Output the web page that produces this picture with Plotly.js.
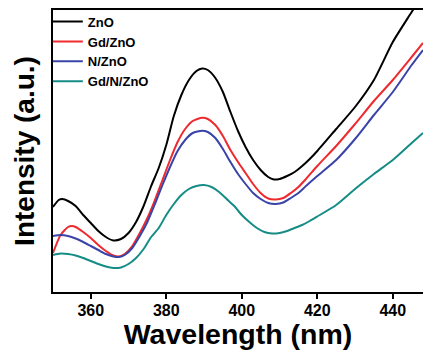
<!DOCTYPE html>
<html>
<head>
<meta charset="utf-8">
<script src="https://cdn.plot.ly/plotly-3.0.1.min.js"></script>
<style>html,body{margin:0;padding:0;background:#fff;}#chart{width:423px;height:350px;}</style>
</head>
<body>
<div id="chart"></div>
<script>
// Series names
const seriesNames = ["ZnO", "Gd/ZnO", "N/ZnO", "Gd/N/ZnO"];
const seriesColors = ["#000000", "#ee2a2f", "#3a44a8", "#168c86"];

// Wavelengths (nm) and intensities (a.u.)
const wlZnO = [350,351.5,352.5,354,356,358,360,362,364,366,368,370,372,374,376,378,380,382,384,386,388,389.5,391,393,395,397,399,401,403,405,407,408.5,410,412,414,416,418,420,425,430,435,440,445,448];
const intZnO = [85,92,93,91,86,77,69,61,55,51.5,53,59,70,86,106,124,147,176,197,212,221,223.5,222,214,200,180,161,145,132,122,115,112.5,113,116,120,126,133,141,163,185,212,250,280,298];

const wlGdZnO = [350,352,354,355,356,358,360,362,364,366,367.5,369,371,373,375,377,379,381,383,385,387,389.5,391,393,395,397,399,401,403,405,407,409,411,413,415,417,420,425,430,435,440,445,448];
const intGdZnO = [39,57,65,66,65,60,54,47,41,36.5,35.5,38,46,59,74,92,112,132,150,163,171,174.3,173,167,156,142,130,119,108,99,93.5,92.5,94,99,105,113,126,146,168,191,212,235,249];

const wlNZnO = [350,352,354,356,358,360,362,364,366,367.5,369,371,373,375,377,379,381,383,385,387,389.5,391,393,395,397,399,401,403,405,407,409,411,413,415,417,420,425,430,435,440,445,448];
const intNZnO = [56,57,56,53.5,50,46,42,38,35.5,35,37,44,56,70,88,107,125,141,152,159,161.3,160,154,143,130,118,108,99,93,89,88,89.5,94,99,106,116,132,153,177,200,227,242];

const wlGdNZnO = [350,352,354,356,358,360,362,364,366,368,370,372,374,376,378,380,382,384,386,388,390,392,394,396,398,400,402,404,406,408,410,412,414,416,418,420,425,430,435,440,445,448];
const intGdNZnO = [37,38.5,38,36.5,34,31,28,25.5,24,24.5,28,34,43,55,64,77,88,97,103,106,107,105,100,93,86,77,70,64,60,58.5,59,61,64,67,71,75.5,87,103,118,132,149,159];

const xTicks = [360, 380, 400, 420, 440];

const wls = [wlZnO, wlGdZnO, wlNZnO, wlGdNZnO];
const ints = [intZnO, intGdZnO, intNZnO, intGdNZnO];

const FONT = "Liberation Sans, Arial, sans-serif";

const traces = seriesNames.map((name, i) => ({
  x: wls[i],
  y: ints[i],
  name: name,
  type: "scatter",
  mode: "lines",
  line: {color: seriesColors[i], width: 2, shape: "spline", smoothing: 0.6}
}));

const layout = {
  width: 423,
  height: 350,
  margin: {l: 53, r: 0, t: 10, b: 58},
  paper_bgcolor: "#ffffff",
  plot_bgcolor: "#ffffff",
  font: {family: FONT, color: "#000000"},
  showlegend: true,
  legend: {
    x: -0.014, y: 1.012, xanchor: "left", yanchor: "top",
    bgcolor: "rgba(0,0,0,0)", borderwidth: 0,
    font: {size: 13, weight: "bold", family: FONT},
    tracegroupgap: 0
  },
  xaxis: {
    range: [350, 448],
    tickvals: xTicks,
    ticktext: xTicks.map(String),
    ticks: "outside", ticklen: 5, tickwidth: 2, tickcolor: "#000",
    ticklabelstandoff: -2,
    showline: true, linewidth: 2, linecolor: "#000", mirror: true,
    showgrid: false, zeroline: false,
    tickfont: {size: 16, weight: "bold", family: FONT},
    title: {text: "Wavelength (nm)", font: {size: 28.5, weight: "bold", family: FONT}, standoff: 3}
  },
  yaxis: {
    range: [0, 282],
    showticklabels: false, ticks: "",
    showline: true, linewidth: 2, linecolor: "#000", mirror: false,
    showgrid: false, zeroline: false,
    title: {text: "Intensity (a.u.)", font: {size: 28, weight: "bold", family: FONT}, standoff: 8}
  }
};

Plotly.newPlot("chart", traces, layout, {displayModeBar: false, staticPlot: true});
</script>
</body>
</html>
